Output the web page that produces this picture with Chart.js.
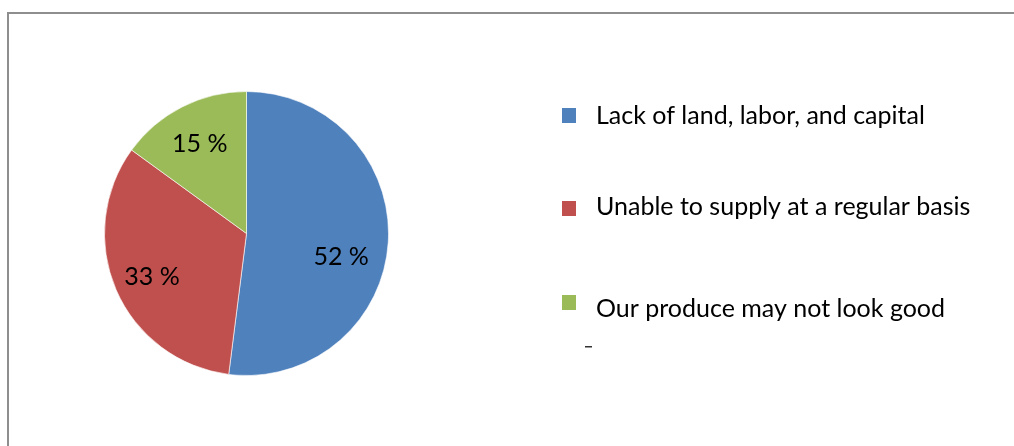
<!DOCTYPE html>
<html>
<head>
<meta charset="utf-8">
<title>Constraints</title>
<script src="https://cdn.jsdelivr.net/npm/chart.js@4.4.1/dist/chart.umd.min.js"></script>
<style>
    html, body { margin: 0; padding: 0; background: #fff; overflow: hidden; }
    #wrap { position: relative; width: 1014px; height: 446px; }
    #frame {
        position: absolute; left: 7px; top: 12px;
        width: 1100px; height: 500px;
        border: 2px solid #8e8e8e;
    }
    canvas { position: absolute; left: 0; top: 0; }
</style>
</head>
<body>
<div id="wrap">
    <div id="frame"></div>
    <canvas id="pie" width="1014" height="446"></canvas>
</div>
<script>
// Categories and shares (percent)
const categories = [
    'Lack of land, labor, and capital',
    'Unable to supply at a regular basis',
    'Our produce may not look good'
];
const shares = [52, 33, 15];
const sliceColors = ['#4F81BD', '#C0504D', '#9BBB59'];

const FONT = '25px Lato, "Open Sans", sans-serif';

// Small nudges so the value labels sit where they read best
const labelNudge = [[-6, 16], [-2, 2], [-1, -1]];

// Legend rows: square top and text baseline
const legendRows = [
    { boxTop: 108, baseline: 124 },
    { boxTop: 201, baseline: 215 },
    { boxTop: 295, baseline: 317 }
];

// Draw "NN %" inside each slice
const valueLabels = {
    id: 'valueLabels',
    afterDatasetsDraw(chart) {
        const ctx = chart.ctx;
        const meta = chart.getDatasetMeta(0);
        ctx.save();
        ctx.font = FONT;
        ctx.fillStyle = '#000';
        ctx.textAlign = 'center';
        ctx.textBaseline = 'alphabetic';
        meta.data.forEach((arc, i) => {
            const p = arc.getProps(['x', 'y', 'startAngle', 'endAngle', 'outerRadius'], true);
            const mid = (p.startAngle + p.endAngle) / 2;
            const r = p.outerRadius * 0.71;
            const x = p.x + Math.cos(mid) * r + labelNudge[i][0];
            const y = p.y + Math.sin(mid) * r + labelNudge[i][1];
            ctx.fillText(chart.data.datasets[0].data[i] + ' %', x, y + 9);
        });
        ctx.restore();
    }
};

// Legend on the right side, drawn from the chart's own legend items
const sideLegend = {
    id: 'sideLegend',
    afterDraw(chart) {
        const ctx = chart.ctx;
        const items = chart.options.plugins.legend.labels.generateLabels(chart);
        ctx.save();
        ctx.font = FONT;
        ctx.textAlign = 'left';
        ctx.textBaseline = 'alphabetic';
        items.forEach((item, i) => {
            const row = legendRows[i];
            ctx.fillStyle = item.fillStyle;
            ctx.fillRect(562, row.boxTop, 14, 15);
            ctx.fillStyle = '#000';
            ctx.fillText(item.text, 596, row.baseline);
        });
        // stray tick under the legend
        ctx.fillStyle = '#333';
        ctx.fillRect(585, 346, 7, 1.5);
        ctx.restore();
    }
};

new Chart(document.getElementById('pie'), {
    type: 'pie',
    data: {
        labels: categories,
        datasets: [{
            data: shares,
            backgroundColor: sliceColors,
            borderColor: 'rgba(255,255,255,0.6)',
            borderWidth: 1
        }]
    },
    options: {
        responsive: false,
        animation: false,
        devicePixelRatio: 1,
        layout: {
            padding: { left: 104, top: 91, right: 625, bottom: 70 }
        },
        plugins: {
            legend: { display: false },
            tooltip: { enabled: false }
        }
    },
    plugins: [valueLabels, sideLegend]
});
</script>
</body>
</html>
